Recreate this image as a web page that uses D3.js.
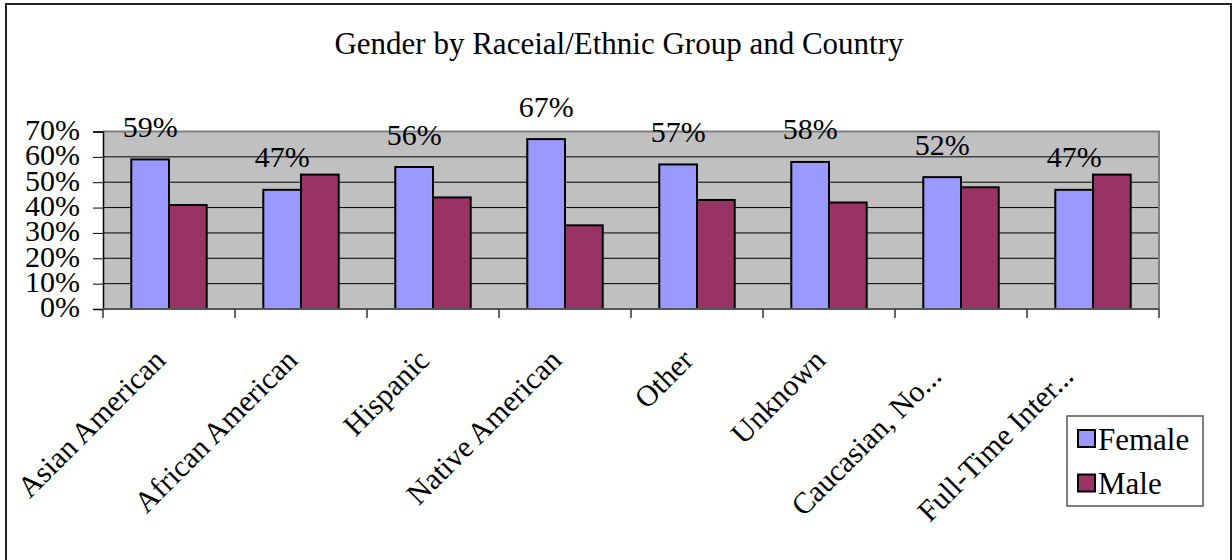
<!DOCTYPE html>
<html><head><meta charset="utf-8">
<script src="https://cdn.jsdelivr.net/npm/d3@7"></script>
<style>
body{margin:0;background:#fff;}
svg text{fill:#000;}
</style></head>
<body>
<svg id="chart" width="1232" height="560"></svg>
<script>
const categories = ["Asian American","African American","Hispanic","Native American","Other","Unknown","Caucasian, No...","Full-Time Inter..."];
const seriesNames = ["Female","Male"];
const female = [59,47,56,67,57,58,52,47];
const male = [41,53,44,33,43,42,48,53];
const femaleLabels = ["59%","47%","56%","67%","57%","58%","52%","47%"];
const yTicks = [0,10,20,30,40,50,60,70];
const colors = ["#9999ff","#993366"];

const FONT = "'Liberation Serif', 'DejaVu Serif', serif";
const svg = d3.select("#chart");
const FS = 30;

svg.append("rect").attr("x",6).attr("y",4).attr("width",1225).attr("height",570)
  .attr("fill","#fff").attr("stroke","#222").attr("stroke-width",2);

const plot = {left:103, right:1159, top:131.5, bottom:309};
const x0 = d3.scaleBand().domain(categories).range([plot.left, plot.right]).paddingInner(0).paddingOuter(0);
const y = d3.scaleLinear().domain([0,70]).range([plot.bottom, plot.top]);

svg.append("text").attr("x",619).attr("y",54).attr("text-anchor","middle")
  .style("font-family",FONT).style("font-size","31px").text("Gender by Raceial/Ethnic Group and Country");

svg.append("rect").attr("x",plot.left).attr("y",plot.top).attr("width",plot.right-plot.left)
  .attr("height",plot.bottom-plot.top).attr("fill","#c0c0c0");

svg.append("g").selectAll("line").data(yTicks.filter(d=>d>0 && d<70)).join("line")
  .attr("x1",plot.left).attr("x2",plot.right).attr("y1",d=>y(d)).attr("y2",d=>y(d))
  .attr("stroke","#000").attr("stroke-width",1);
svg.append("line").attr("x1",plot.left).attr("x2",plot.right+1).attr("y1",plot.top).attr("y2",plot.top)
  .attr("stroke","#808080").attr("stroke-width",2);
svg.append("line").attr("x1",plot.right).attr("x2",plot.right).attr("y1",plot.top).attr("y2",plot.bottom)
  .attr("stroke","#808080").attr("stroke-width",2);

const bw = x0.bandwidth()/ (2 + 1.5);
const groups = svg.append("g").selectAll("g").data(categories).join("g")
  .attr("transform", d=>`translate(${x0(d) + x0.bandwidth()/2 - bw},0)`);
const vals = [female, male];
groups.selectAll("rect").data((d,i)=>[0,1].map(s=>({s, v: vals[s][i]}))).join("rect")
  .attr("x", d=>d.s*bw).attr("width", bw)
  .attr("y", d=>y(d.v)).attr("height", d=>plot.bottom - y(d.v))
  .attr("fill", d=>colors[d.s]).attr("stroke","#000").attr("stroke-width",2);

svg.append("g").selectAll("text").data(categories).join("text")
  .attr("x", d=>x0(d)+x0.bandwidth()/2 - bw/2)
  .attr("y", (d,i)=>y(female[i]) - 33)
  .attr("text-anchor","middle").attr("dominant-baseline","central")
  .style("font-family",FONT).style("font-size",FS+"px").text((d,i)=>femaleLabels[i]);

const yAxis = d3.axisLeft(y).tickValues(yTicks).tickFormat(d=>d+"%").tickSize(10).tickPadding(13);
const ya = svg.append("g").attr("transform",`translate(${plot.left},0)`).call(yAxis);
ya.select(".domain").attr("stroke","#000").attr("stroke-width",1.5);
ya.selectAll(".tick line").attr("stroke","#000");
ya.selectAll(".tick text").style("font-family",FONT).style("font-size",FS+"px").attr("dy","0.26em");

const edges = d3.range(categories.length+1).map(i=>plot.left + i*x0.bandwidth());
svg.append("line").attr("x1",plot.left).attr("x2",plot.right).attr("y1",plot.bottom).attr("y2",plot.bottom)
  .attr("stroke","#555").attr("stroke-width",2);
svg.append("g").selectAll("line").data(edges).join("line")
  .attr("x1",d=>d).attr("x2",d=>d).attr("y1",plot.bottom).attr("y2",plot.bottom+9)
  .attr("stroke","#333").attr("stroke-width",1.5);

svg.append("g").selectAll("text").data(categories).join("text")
  .attr("transform", d=>{
    const cx = x0(d)+x0.bandwidth()/2;
    const trunc = d.endsWith("...");
    const sx = trunc ? cx-18 : cx-2;
    const sy = trunc ? 378 : 362;
    return `translate(${sx},${sy}) rotate(-45)`;
  })
  .attr("text-anchor","end").style("font-family",FONT).style("font-size",FS+"px").text(d=>d);

const lg = svg.append("g");
lg.append("rect").attr("x",1067).attr("y",416).attr("width",136).attr("height",90)
  .attr("fill","#fff").attr("stroke","#555").attr("stroke-width",1.5);
seriesNames.forEach((s,i)=>{
  const yy = 430 + i*44.5;
  lg.append("rect").attr("x",1078).attr("y",yy).attr("width",17).attr("height",17)
    .attr("fill",colors[i]).attr("stroke","#000").attr("stroke-width",2);
  lg.append("text").attr("x",1098).attr("y",yy+9).attr("dominant-baseline","central")
    .style("font-family",FONT).style("font-size","31px").text(s);
});
</script>
</body></html>
